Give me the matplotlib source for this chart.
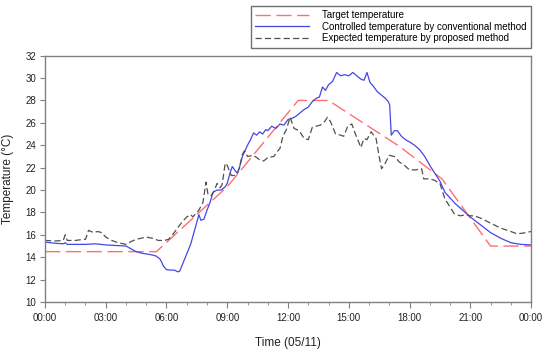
import numpy as np
import matplotlib
matplotlib.use("Agg")
import matplotlib.pyplot as plt
from matplotlib.ticker import MultipleLocator

plt.rcParams['font.family'] = ['Liberation Sans', 'DejaVu Sans']

# target temperature (piecewise), hours since 00:00
target_h = [0, 5.5, 9, 12.5, 14, 17.5, 19.6, 22, 24]
target_t = [14.5, 14.5, 20.3, 28, 28, 23.9, 21, 15, 15]

# controlled temperature by conventional method
conv_h = [0, 0.5, 0.9, 1.0, 1.1, 1.5, 2.0, 2.5, 3.0, 3.5, 4.0, 4.3, 4.5, 4.8, 5.0,
          5.3, 5.5, 5.7, 5.85, 6.0, 6.2, 6.4, 6.55, 6.65, 6.75, 7.0, 7.2, 7.4, 7.6,
          7.7, 7.85, 8.0, 8.15, 8.3, 8.5, 8.7, 8.9, 9.0, 9.15, 9.25, 9.4, 9.5, 9.6,
          9.75, 9.9, 10.0, 10.15, 10.3, 10.45, 10.6, 10.75, 10.9, 11.0, 11.2, 11.4,
          11.6, 11.8, 12.0, 12.2, 12.4, 12.6, 12.8, 13.0, 13.2, 13.4, 13.55, 13.7,
          13.85, 14.0, 14.2, 14.4, 14.6, 14.8, 15.0, 15.2, 15.4, 15.6, 15.75, 15.9,
          16.05, 16.2, 16.4, 16.6, 16.8, 16.95, 17.02, 17.1, 17.25, 17.4, 17.6, 17.8,
          18.0, 18.25, 18.5, 18.75, 19.0, 19.25, 19.5, 19.75, 20.0, 20.25, 20.5,
          20.75, 21.0, 21.5, 22.0, 22.5, 23.0, 23.5, 24.0]
conv_t = [15.35, 15.25, 15.2, 15.3, 15.15, 15.15, 15.15, 15.2, 15.1, 15.05, 15.0, 14.7,
          14.5, 14.35, 14.3, 14.2, 14.1, 13.8, 13.2, 12.9, 12.85, 12.85, 12.7, 12.75,
          13.2, 14.3, 15.2, 16.5, 17.8, 17.3, 17.4, 18.2, 18.9, 19.8, 20.0, 20.0, 20.3,
          20.6, 21.6, 22.1, 21.7, 21.5, 22.0, 23.0, 23.6, 24.0, 24.5, 25.1, 24.9, 25.2,
          25.0, 25.4, 25.3, 25.7, 25.5, 25.9, 25.8, 26.3, 26.4, 26.6, 26.9, 27.2, 27.4,
          27.9, 28.2, 28.3, 29.2, 28.9, 29.4, 29.7, 30.5, 30.2, 30.3, 30.2, 30.5, 30.2,
          29.9, 29.8, 30.5, 29.6, 29.3, 28.8, 28.5, 28.2, 27.9, 27.6, 24.9, 25.3, 25.3,
          24.8, 24.5, 24.3, 24.0, 23.6, 23.0, 22.2, 21.5, 20.8, 19.8, 19.3, 18.8, 18.4,
          18.0, 17.6, 16.9, 16.2, 15.7, 15.3, 15.15, 15.1]

# expected temperature by proposed method
prop_h = [0, 0.5, 0.9, 1.0, 1.1, 1.5, 1.9, 2.0, 2.15, 2.4, 2.6, 2.8, 3.0, 3.3, 3.6,
          4.0, 4.25, 4.5, 5.0, 5.3, 5.6, 5.9, 6.1, 6.3, 6.5, 6.75, 7.0, 7.2, 7.3, 7.45,
          7.6, 7.8, 7.95, 8.05, 8.2, 8.35, 8.5, 8.65, 8.75, 8.9, 9.0, 9.2, 9.35, 9.5,
          9.6, 9.75, 9.85, 10.0, 10.3, 10.6, 10.8, 11.0, 11.3, 11.45, 11.6, 11.75,
          11.92, 12.1, 12.3, 12.55, 12.8, 13.0, 13.2, 13.4, 13.6, 13.8, 13.95, 14.1,
          14.35, 14.6, 14.75, 14.95, 15.15, 15.35, 15.6, 15.75, 15.9, 16.1, 16.35,
          16.5, 16.62, 16.8, 17.0, 17.25, 17.5, 17.75, 18.0, 18.3, 18.6, 18.7, 18.9,
          19.2, 19.5, 19.75, 20.0, 20.2, 20.5, 20.8, 21.0, 21.2, 21.5, 22.0, 22.5,
          23.0, 23.3, 23.6, 24.0]
prop_t = [15.5, 15.45, 15.5, 16.0, 15.5, 15.5, 15.6, 15.6, 16.4, 16.2, 16.3, 16.2, 15.8,
          15.5, 15.3, 15.15, 15.4, 15.6, 15.8, 15.7, 15.5, 15.5, 15.6, 16.0, 16.5, 17.1,
          17.6, 17.8, 17.6, 17.9, 18.2, 18.9, 20.7, 19.6, 19.5, 19.9, 20.6, 20.2, 20.5,
          22.4, 22.2, 21.3, 21.3, 21.5, 22.0, 23.2, 23.5, 23.0, 23.1, 22.7, 22.6, 22.9,
          23.0, 23.4, 23.7, 24.8, 25.4, 26.5, 25.5, 25.3, 24.6, 24.5, 25.6, 25.7, 25.8,
          26.1, 26.5, 26.1, 25.0, 24.9, 24.8, 25.7, 25.9, 24.9, 23.8, 24.6, 24.5, 25.2,
          24.6, 23.0, 21.9, 22.4, 23.1, 23.0, 22.5, 22.2, 21.8, 21.8, 21.9, 21.0, 21.0,
          20.9, 20.6, 19.2, 18.5, 17.9, 17.7, 17.8, 17.7, 17.7, 17.5, 17.05, 16.6, 16.3,
          16.1, 16.15, 16.3]

tick_hours = [0, 3, 6, 9, 12, 15, 18, 21, 24]
tick_labels = ["00:00", "03:00", "06:00", "09:00", "12:00", "15:00", "18:00", "21:00", "00:00"]

fig = plt.figure(figsize=(5.5, 3.5), dpi=100)
ax = fig.add_axes([0.0818, 0.137, 0.8837, 0.704])

ax.plot(target_h, target_t, color='#ff6f6f', lw=1.0, dashes=(11, 4),
        label='Target temperature')
ax.plot(conv_h, conv_t, color='#4646e6', lw=0.9,
        label='Controlled temperature by conventional method')
ax.plot(prop_h, prop_t, color='#505050', lw=0.9, dashes=(5, 2.5),
        label='Expected temperature by proposed method')

ax.set_xlim(0, 24)
ax.set_ylim(10, 32)
ax.set_xticks(tick_hours)
ax.set_xticklabels(tick_labels)
ax.xaxis.set_minor_locator(MultipleLocator(1))
ax.yaxis.set_major_locator(MultipleLocator(2))

for s in ax.spines.values():
    s.set_color('#808080')
    s.set_linewidth(1.0)
ax.tick_params(axis='both', which='major', direction='out', color='#808080',
               labelsize=7, labelcolor='#222222')
ax.tick_params(axis='x', which='major', length=4, pad=4)
ax.tick_params(axis='y', which='major', length=3.5, pad=3)
ax.tick_params(axis='x', which='minor', direction='out', length=2.5, color='#808080')

ax.set_xlabel('Time (05/11)', fontsize=8.5, color='#222222', labelpad=10)
ax.set_ylabel('Temperature (\u00b0C)', fontsize=8.5, color='#222222', labelpad=8)

leg = ax.legend(loc='upper right', bbox_to_anchor=(0.9655, 0.983),
                bbox_transform=fig.transFigure, borderaxespad=0, fontsize=7,
                handlelength=5.5, handletextpad=1.4, labelspacing=0.15,
                borderpad=0.45, fancybox=False, framealpha=1, edgecolor='#707070')
leg.get_frame().set_linewidth(1.0)

fig.savefig('out.png', dpi=100)
